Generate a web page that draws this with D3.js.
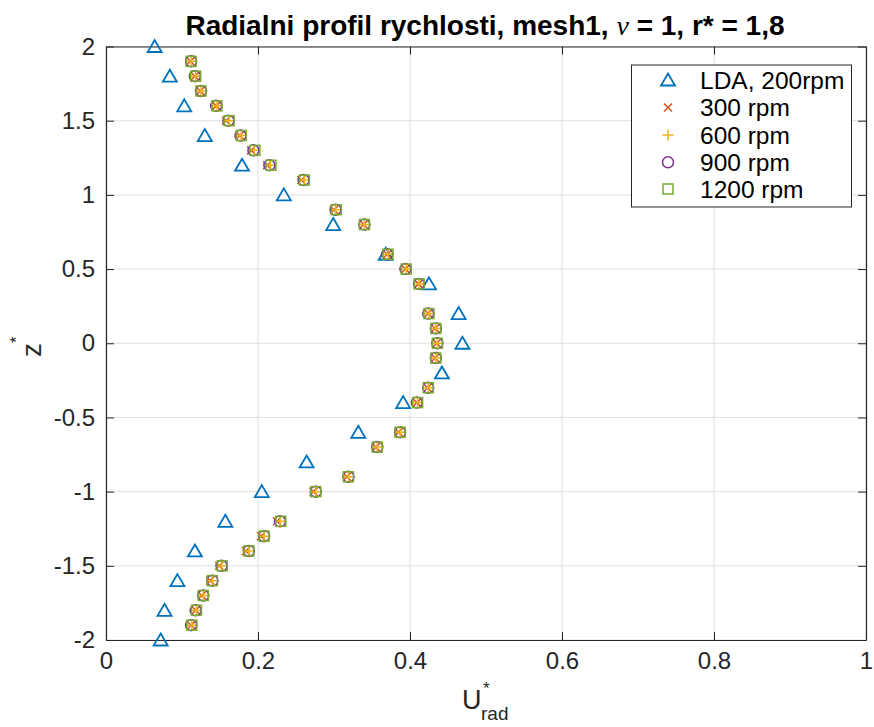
<!DOCTYPE html>
<html><head><meta charset="utf-8">
<script src="https://cdn.jsdelivr.net/npm/d3@7"></script>
<style>body{margin:0;background:#fff;} text{font-family:"Liberation Sans",Arial,Helvetica,sans-serif;}</style>
</head><body>
<svg id="c" width="874" height="727"></svg>
<script>
// ---- data ----
const zLDA = [2, 1.8, 1.6, 1.4, 1.2, 1.0, 0.8, 0.6, 0.4, 0.2, 0, -0.2, -0.4, -0.6, -0.8, -1.0, -1.2, -1.4, -1.6, -1.8, -2];
const uLDA = [0.064, 0.084, 0.103, 0.130, 0.179, 0.234, 0.299, 0.368, 0.425, 0.464, 0.469, 0.442, 0.391, 0.332, 0.264, 0.205, 0.157, 0.117, 0.094, 0.077, 0.072];

const zCFD = [1.9, 1.8, 1.7, 1.6, 1.5, 1.4, 1.3, 1.2, 1.1, 0.9, 0.8, 0.6, 0.5, 0.4, 0.2, 0.1, 0, -0.1, -0.3, -0.4, -0.6, -0.7, -0.9, -1.0, -1.2, -1.3, -1.4, -1.5, -1.6, -1.7, -1.8, -1.9];
const u300  = [0.111, 0.117, 0.124, 0.145, 0.158, 0.176, 0.191, 0.212, 0.257, 0.300, 0.339, 0.370, 0.394, 0.411, 0.424, 0.433, 0.435, 0.433, 0.423, 0.409, 0.385, 0.355, 0.317, 0.273, 0.225, 0.204, 0.184, 0.149, 0.137, 0.126, 0.118, 0.112];
const u600  = [0.112, 0.118, 0.125, 0.146, 0.162, 0.178, 0.195, 0.216, 0.261, 0.302, 0.340, 0.371, 0.395, 0.412, 0.425, 0.434, 0.436, 0.434, 0.424, 0.410, 0.387, 0.357, 0.319, 0.276, 0.229, 0.208, 0.188, 0.152, 0.140, 0.128, 0.119, 0.113];
const u900  = [0.112, 0.117, 0.125, 0.145, 0.161, 0.177, 0.194, 0.215, 0.260, 0.302, 0.340, 0.370, 0.394, 0.412, 0.424, 0.434, 0.436, 0.434, 0.424, 0.409, 0.387, 0.357, 0.319, 0.276, 0.229, 0.208, 0.188, 0.152, 0.140, 0.128, 0.118, 0.112];
const u1200 = [0.112, 0.118, 0.125, 0.146, 0.162, 0.178, 0.196, 0.217, 0.261, 0.303, 0.340, 0.371, 0.395, 0.412, 0.425, 0.434, 0.436, 0.434, 0.424, 0.410, 0.387, 0.357, 0.319, 0.276, 0.230, 0.208, 0.188, 0.153, 0.140, 0.128, 0.119, 0.113];

const seriesNames = ["LDA, 200rpm", "300 rpm", "600 rpm", "900 rpm", "1200 rpm"];
const seriesColors = ["#0072BD", "#D95319", "#EDB120", "#7E2F8E", "#77AC30"];
const seriesShapes = ["triangle", "x", "plus", "circle", "square"];
const xTicks = [0, 0.2, 0.4, 0.6, 0.8, 1];
const yTicks = [-2, -1.5, -1, -0.5, 0, 0.5, 1, 1.5, 2];

const series = [
  {z: zLDA, u: uLDA},
  {z: zCFD, u: u300},
  {z: zCFD, u: u600},
  {z: zCFD, u: u900},
  {z: zCFD, u: u1200}
];

// ---- layout ----
const L = 106, R = 866, T = 46.5, B = 640;
const axisCol = "#262626";
const svg = d3.select("#c");
const x = d3.scaleLinear().domain([0, 1]).range([L, R]);
const y = d3.scaleLinear().domain([-2, 2]).range([B, T]);

// grid
const g = svg.append("g");
g.selectAll(".gx").data(xTicks).join("line")
  .attr("x1", d => x(d)).attr("x2", d => x(d)).attr("y1", T).attr("y2", B)
  .attr("stroke", "#dfdfdf").attr("stroke-width", 1);
g.selectAll(".gy").data(yTicks).join("line")
  .attr("y1", d => y(d)).attr("y2", d => y(d)).attr("x1", L).attr("x2", R)
  .attr("stroke", "#dfdfdf").attr("stroke-width", 1);

// axes
function styleAxis(sel) {
  sel.select(".domain").attr("stroke", axisCol).attr("stroke-width", 1.2);
  sel.selectAll(".tick line").attr("stroke", axisCol).attr("stroke-width", 1);
  sel.selectAll(".tick text").attr("fill", axisCol).style("font-size", "24px")
     .style("font-family", '"Liberation Sans", Arial, sans-serif');
}
const fmt = d => String(d);
svg.append("g").attr("transform", `translate(0,${B})`)
  .call(d3.axisBottom(x).tickValues(xTicks).tickFormat(fmt).tickSizeInner(-8).tickSizeOuter(0).tickPadding(12))
  .call(styleAxis);
svg.append("g").attr("transform", `translate(0,${T})`)
  .call(d3.axisTop(x).tickValues(xTicks).tickFormat("").tickSizeInner(-8).tickSizeOuter(0))
  .call(styleAxis);
svg.append("g").attr("transform", `translate(${L},0)`)
  .call(d3.axisLeft(y).tickValues(yTicks).tickFormat(fmt).tickSizeInner(-8).tickSizeOuter(0).tickPadding(11))
  .call(styleAxis);
svg.append("g").attr("transform", `translate(${R},0)`)
  .call(d3.axisRight(y).tickValues(yTicks).tickFormat("").tickSizeInner(-8).tickSizeOuter(0))
  .call(styleAxis);

// markers
function drawMarker(sel, shape, color) {
  if (shape === "triangle") {
    sel.append("path").attr("d", "M0,-6.5L7,5.5L-7,5.5Z").attr("fill", "none").attr("stroke", color).attr("stroke-width", 1.8);
  } else if (shape === "x") {
    sel.append("path").attr("d", "M-4,-4L4,4M-4,4L4,-4").attr("fill", "none").attr("stroke", color).attr("stroke-width", 1.5);
  } else if (shape === "plus") {
    sel.append("path").attr("d", "M-5.5,0L5.5,0M0,-5.5L0,5.5").attr("fill", "none").attr("stroke", color).attr("stroke-width", 1.5);
  } else if (shape === "circle") {
    sel.append("circle").attr("r", 5.5).attr("fill", "none").attr("stroke", color).attr("stroke-width", 1.5);
  } else if (shape === "square") {
    sel.append("rect").attr("x", -5).attr("y", -5).attr("width", 10).attr("height", 10).attr("fill", "none").attr("stroke", color).attr("stroke-width", 1.5);
  }
}
series.forEach((s, i) => {
  const pts = s.z.map((z, k) => ({z, u: s.u[k]}));
  svg.append("g").selectAll("g").data(pts).join("g")
    .attr("transform", d => `translate(${x(d.u)},${y(d.z)})`)
    .each(function() { drawMarker(d3.select(this), seriesShapes[i], seriesColors[i]); });
});

// title
const title = svg.append("text").attr("x", 485).attr("y", 35).attr("text-anchor", "middle")
  .attr("fill", "#000").style("font-size", "28px").style("font-weight", "bold");
title.append("tspan").text("Radialni profil rychlosti, mesh1, ");
title.append("tspan").text("ν").style("font-style", "italic").style("font-weight", "normal").style("font-family", '"Liberation Serif", serif');
title.append("tspan").text(" = 1, r* = 1,8");

// x label U*_rad
svg.append("text").attr("x", 462).attr("y", 709).attr("fill", axisCol).style("font-size", "27px").text("U");
svg.append("text").attr("x", 483).attr("y", 694).attr("fill", axisCol).style("font-size", "17px").text("*");
svg.append("text").attr("x", 481).attr("y", 720).attr("fill", axisCol).style("font-size", "19px").text("rad");

// y label z*
svg.append("text").attr("transform", "translate(41,357) rotate(-90)").attr("fill", axisCol).style("font-size", "28px").text("z");
svg.append("text").attr("transform", "translate(22,343) rotate(-90)").attr("fill", axisCol).style("font-size", "17px").text("*");

// legend
const lg = svg.append("g");
lg.append("rect").attr("x", 631.5).attr("y", 65).attr("width", 220).attr("height", 142)
  .attr("fill", "#fff").attr("stroke", axisCol).attr("stroke-width", 1);
const rowY = [80, 107.5, 135, 162.3, 189];
seriesNames.forEach((name, i) => {
  const r = lg.append("g").attr("transform", `translate(668,${rowY[i]})`);
  drawMarker(r, seriesShapes[i], seriesColors[i]);
  lg.append("text").attr("x", 700).attr("y", rowY[i] + 8.5).attr("fill", "#000").style("font-size", "24.5px").text(name);
});
</script>
</body></html>
